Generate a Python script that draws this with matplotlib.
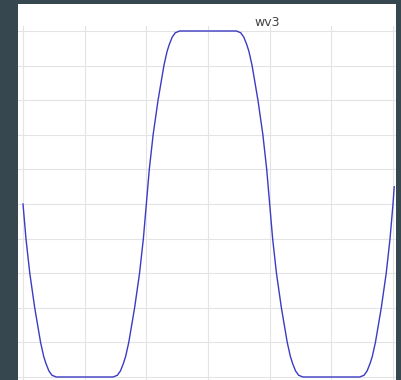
import numpy as np
import matplotlib.pyplot as plt
from matplotlib.patches import Rectangle

# wave "wv3" (x in grid steps, y in -1..1)
x_pts = [0.000, 0.048, 0.110, 0.190, 0.285, 0.335, 0.370, 0.420, 0.470, 0.540,
         1.460, 1.530, 1.580, 1.630, 1.665, 1.715, 1.810, 1.890, 1.952, 2.000,
         2.048, 2.110, 2.190, 2.285, 2.335, 2.370, 2.420, 2.470, 2.540,
         3.460, 3.530, 3.580, 3.630, 3.665, 3.715, 3.810, 3.890, 3.952, 4.000,
         4.048, 4.110, 4.190, 4.285, 4.335, 4.370, 4.420, 4.470, 4.540,
         5.460, 5.530, 5.580, 5.630, 5.665, 5.715, 5.810, 5.890, 5.952, 6.000,
         6.020]
y_pts = [0.00, -0.20, -0.40, -0.60, -0.80, -0.88, -0.92, -0.965, -0.99, -1.00,
         -1.00, -0.99, -0.965, -0.92, -0.88, -0.80, -0.60, -0.40, -0.20, 0.00,
         0.20, 0.40, 0.60, 0.80, 0.88, 0.92, 0.965, 0.99, 1.00,
         1.00, 0.99, 0.965, 0.92, 0.88, 0.80, 0.60, 0.40, 0.20, 0.00,
         -0.20, -0.40, -0.60, -0.80, -0.88, -0.92, -0.965, -0.99, -1.00,
         -1.00, -0.99, -0.965, -0.92, -0.88, -0.80, -0.60, -0.40, -0.20, 0.00,
         0.10]
x_grid = [0, 1, 2, 3, 4, 5, 6]
y_grid = [-1.0, -0.8, -0.6, -0.4, -0.2, 0.0, 0.2, 0.4, 0.6, 0.8, 1.0]
title = "wv3"

W, H = 401, 380
fig = plt.figure(figsize=(W / 100, H / 100), dpi=100)
fig.patch.set_facecolor("#37474f")

# white card behind the chart
fig.patches.append(Rectangle((18 / W, 0), 378 / W, 376 / H,
                             transform=fig.transFigure, facecolor="white",
                             edgecolor="none", zorder=-10))

ax = fig.add_axes([18 / W, 0, 378 / W, 354 / H])
ax.set_zorder(1)
ax.set_facecolor("white")
ax.plot(x_pts, y_pts, color="#3b3bc4", lw=1.0, clip_on=False)

ax.set_xlim(-5 / 61.67, 6 + 3 / 61.67)
ax.set_ylim(-1 - 3 / 173, 1 + 5 / 173)
ax.set_xticks(x_grid)
ax.set_yticks(y_grid)
ax.tick_params(length=0, labelbottom=False, labelleft=False)
ax.grid(True, color="#e4e4e4", lw=0.8)
ax.set_axisbelow(True)
for s in ax.spines.values():
    s.set_visible(False)

fig.text(267.5 / W, 1 - 22 / H, title, ha="center", va="center",
         fontsize=9, color="#444444")

fig.savefig("out.png", dpi=100, facecolor=fig.get_facecolor())
